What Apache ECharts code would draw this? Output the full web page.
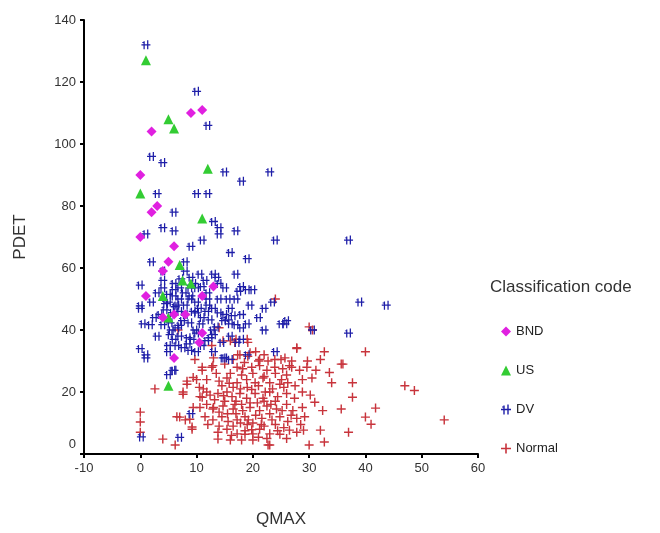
<!DOCTYPE html>
<html><head><meta charset="utf-8">
<script src="https://cdn.jsdelivr.net/npm/echarts@6/dist/echarts.min.js"></script>
<style>html,body{margin:0;padding:0;background:#fff}#c{width:660px;height:533px}</style>
</head><body><div id="c"></div>
<script>
var xTicks = [-10, 0, 10, 20, 30, 40, 50, 60];
var yTicks = [0, 20, 40, 60, 80, 100, 120, 140];
var seriesNames = ['BND', 'US', 'DV', 'Normal'];

var BND = [[2,104],[9,110],[11,111],[0,90],[2,78],[3,80],[0,70],[6,67],[5,62],[4,59],[1,51],[13,54],[11,51],[8,45],[6,45],[11,39],[10.5,36],[6,31],[4,44]];

var US = [[1,127],[5,108],[6,105],[12,92],[0,84],[11,76],[7,61],[7.5,56],[9,55],[4,51],[5,44],[5,22]];

var DV = [[1,132],[10,117],[12,106],[2,96],[4,94],[15,91],[18,88],[23,91],[3,84],[10,84],[12,84],[6,78],[4,73],[6,72],[13,75],[14,73],[14,71],[17,72],[24,69],[1,71],[11,69],[9,67],[16,65],[19,63],[2,62],[8,62],[4,59],[8,59],[10.6,58],[13,58],[17,58],[13.6,57],[37,69],
[0,54.5],[4,53.6],[6,55],[6,53],[7,53.6],[8.8,53.6],[10,53.6],[15,53.6],[18,54],[19,53],[6,51],[7,50],[8.8,50],[10,49],[12,50],[14,50],[15.6,50],[17,50],[0,47.8],[4.4,46.5],[5.7,45.6],[7,46],[9.4,46],[11.8,46],[15,45],[16.5,44.6],[12.4,43.3],[1.8,41.7],[4,41.7],[5.3,42.3],[6.5,40.7],[8.8,42.3],[9.7,40],[15.4,43.3],[17,41.7],[18,40.7],[13,38.5],[5.3,38.5],[7,38],[8.5,37.5],[11.8,36.6],[12.4,37.5],[7.6,34.3],[8.8,33.4],[5,35],[0,34],[1,32],[1,31],[15,31],[16,30.5],[0.5,42],[0,47],[2,49],[3,52],[5,49],[6.5,48],[8,48],[9,51],[10.5,47],[11,44],[13,47],[14,45.5],[7.5,43],[6,37],[10,39],[13.5,41],[16,38],[3,38],[4,56],[9,57],[11,54],[12,52],[14,55],[16,47],[18,45],[19,42],[8.5,35.5],[10,33],[5,33],[6.5,35],[18,37],
[5,51.5],[7.8,52],[9.5,55],[6.2,47.5],[8,45],[10.8,42],[12.8,40],[14.5,36],[5.5,40],[7,41.5],[9.2,37],[11,35],[13,33],[14.8,43],[16,42],[17.2,36],[4.5,48.5],[3.5,45],[2.5,44],[10,45.5],[12,48],[7.2,56.5],[11.5,56],[17.5,52.5],[19.5,48],
[22,47],[23.5,49],[21,44],[25,42],[25.7,42],[24,33],[19,32],[39,49],[43.7,48],[37,39],[30.6,40],[14.7,31],[5.8,27],[5,25.6],[9,13],[7,5.4],[0.2,5.5],[6,27],[20,53],[22,40],[26,43]];

var Normal = [[30.6,40],[30,41],[19,37],[17,37],[16,36.5],[14.7,36.5],[12.7,35],[27.8,34],[32.7,33],[40,33],[35.7,29],[19.5,32.7],[17.3,32],[21,30],[25,30.5],[26.5,28.5],[29.7,30],[32,30.5],[33.6,26.3],[34,23],[37.7,23],[37.7,18.3],[35.7,14.5],[32.4,14],[31,16.7],[37,7],[29,7.7],[32,7.7],[32.7,3.9],[40,11.9],[30,2.9],[9.7,30.5],[13,31],[11,27],[12.7,28],[9.4,24.7],[8.3,22.5],[7.6,19.3],[11.2,21],[12.4,19],[11,18.3],[9.4,15],[13,15],[7,11.9],[8.8,11.2],[9.2,8.7],[4,4.8],[6.2,2.9],[2.6,21],[13.8,4.8],[16,4.5],[18.6,6.4],[21,5.4],[22.7,2.9],[24.8,6.4],[26.5,7.7],[41.8,14.8],[41,9.6],[47,22],[48.7,20.5],[54,11],[36,29],[0,13.5],[0,10.3],[0,7],[24,50],[6.7,40],[14,40.7],[23,2.9],[18,4.5],[20,4.5],
[16.8,36],[19.1,36],[27.8,34.3],
[17.7,32],[19.1,31.5],[21.2,30.5],[22.7,30],[23.9,30.5],[25.7,31],[26.9,30],
[11,28],[12.9,28.5],[17.2,28],[18.2,27.5],[19.8,28],[21.2,28.5],[22.5,27],[23.9,28],[25.3,27.5],[26.9,28],[28.3,27],[29.6,28],
[8.3,23.5],[10,24],[11.8,24],[15.4,24.5],[17.2,23],[18.9,24],[20.4,23],[21.8,24.5],[23,23],[25.1,24],[26.2,23],[28.8,24],
[7.6,20],[10.6,18.5],[11.8,20],[13.8,19.5],[15.4,20],[16.3,18.5],[17.7,19.5],[18.9,18],[20.4,19.5],[21.8,18],[23,20],[24.4,18.5],[26,19.5],[27.4,18],[28.8,20],
[10.6,15],[11.8,16],[12.9,14.5],[14.7,15.5],[16.5,14.5],[18,16],[19.5,15],[21.2,14],[22.5,15.5],[24.2,14.5],[26,16],[27.1,14],[28.8,15],
[6.5,12],[8,11],[11.5,12],[12.9,11],[14.5,12],[15.6,10.5],[17.2,11],[18.6,12],[20,10],[21.6,11.5],[23.4,11],[24.8,12],[26.2,10.5],[27.8,11.5],[29.2,12],
[9.2,8],[13.8,7],[15.4,8],[17.2,6.5],[18.6,7.5],[20,6.5],[21.2,8],[23,6.5],[24.4,7.5],[27.8,7],
[16,26],[18,25.5],[20,26],[22,25],[14.5,22],[16.5,21.5],[19,21.5],[21,22],[23.5,21],[25.5,21.5],[15,17],[17,17],[19.5,16.5],[22,17],[24,17],[14,9],[16.5,9],[19,9.5],[22,9],[17,13],[20.5,12.5],[23,13],
[15,29],[16.5,30.5],[18.5,29.5],[20.5,33],[22,32],[24,26],[26,25.5],[27.5,22],[13.5,26],[14,23.5],[15.8,22.8],[17.8,21],[19.8,20.8],[22.2,20],[24.8,22.5],[13.2,17.5],[14.8,18.8],[16.8,16],[18.2,14],[20.8,16.5],[23.2,16],[25.2,14],[26.8,12.5],[14,13.5],[15.5,13],[17.8,10],[19.2,11],[21.5,9.5],[24,9.5],[25.5,8.5],[16.2,6],[19.8,7.8],[22.5,5],[26,5],[28.5,9.5],[30.2,19],[30.5,24.5],[31.2,27],[12,9.5],[10.5,21.5]];

var plusPath = 'path://M4.2,0 L5.8,0 L5.8,4.2 L10,4.2 L10,5.8 L5.8,5.8 L5.8,10 L4.2,10 L4.2,5.8 L0,5.8 L0,4.2 L4.2,4.2 Z';
var dvPath = 'path://M0,4.3 L10,4.3 L10,5.7 L0,5.7 Z M2.3,1 L3.7,1 L3.7,10 L2.3,10 Z M6.3,0 L7.7,0 L7.7,10 L6.3,10 Z M1,2 L3,2 L3,3 L1,3 Z';

var font = 'Liberation Sans, Arial, sans-serif';
var chart = echarts.init(document.getElementById('c'));
chart.setOption({
  animation: false,
  backgroundColor: '#fff',
  grid: { left: 84, right: 182, top: 20, bottom: 76, containLabel: false },
  xAxis: {
    type: 'value', min: xTicks[0], max: xTicks[xTicks.length - 1], interval: 10,
    name: 'QMAX', nameLocation: 'middle', nameGap: 57,
    nameTextStyle: { fontFamily: font, fontSize: 17, color: '#333' },
    axisLine: { onZero: false, lineStyle: { color: '#000', width: 2 } },
    axisTick: { show: true, length: 4, lineStyle: { color: '#000', width: 2 } },
    axisLabel: { fontFamily: font, fontSize: 13, color: '#333', margin: 8 },
    splitLine: { show: false }
  },
  yAxis: {
    type: 'value', min: yTicks[0], max: yTicks[yTicks.length - 1], interval: 20,
    name: 'PDET', nameLocation: 'middle', nameGap: 55, nameRotate: 90,
    nameTextStyle: { fontFamily: font, fontSize: 17, color: '#333' },
    axisLine: { onZero: false, lineStyle: { color: '#000', width: 2 } },
    axisTick: { show: true, length: 4, lineStyle: { color: '#000', width: 2 } },
    axisLabel: {
      fontFamily: font, fontSize: 13, color: '#333', margin: 8,
      formatter: function (v) { return v === 0 ? '{z|0}' : String(v); },
      rich: { z: { fontFamily: font, fontSize: 13, color: '#333', padding: [0, 0, 20, 0] } }
    },
    splitLine: { show: false }
  },
  graphic: [{
    type: 'text', left: 490, top: 279,
    style: { text: 'Classification code', font: '17px ' + font, fill: '#333' }
  }],
  legend: {
    data: seriesNames, orient: 'vertical', left: 496, top: 320,
    itemGap: 26, itemWidth: 10, itemHeight: 10,
    textStyle: { fontFamily: font, fontSize: 13, color: '#222' }
  },
  series: [
    { name: 'Normal', type: 'scatter', data: Normal, symbol: plusPath, symbolSize: 9,
      itemStyle: { color: '#c8343c', opacity: 1 } },
    { name: 'DV', type: 'scatter', data: DV, symbol: dvPath, symbolSize: 9,
      itemStyle: { color: '#1e1ea8', opacity: 1 } },
    { name: 'US', type: 'scatter', data: US, symbol: 'triangle', symbolSize: 10,
      itemStyle: { color: '#33cc33', opacity: 1 } },
    { name: 'BND', type: 'scatter', data: BND, symbol: 'diamond', symbolSize: 10,
      itemStyle: { color: '#e020e0', opacity: 1 } }
  ]
});
</script></body></html>
